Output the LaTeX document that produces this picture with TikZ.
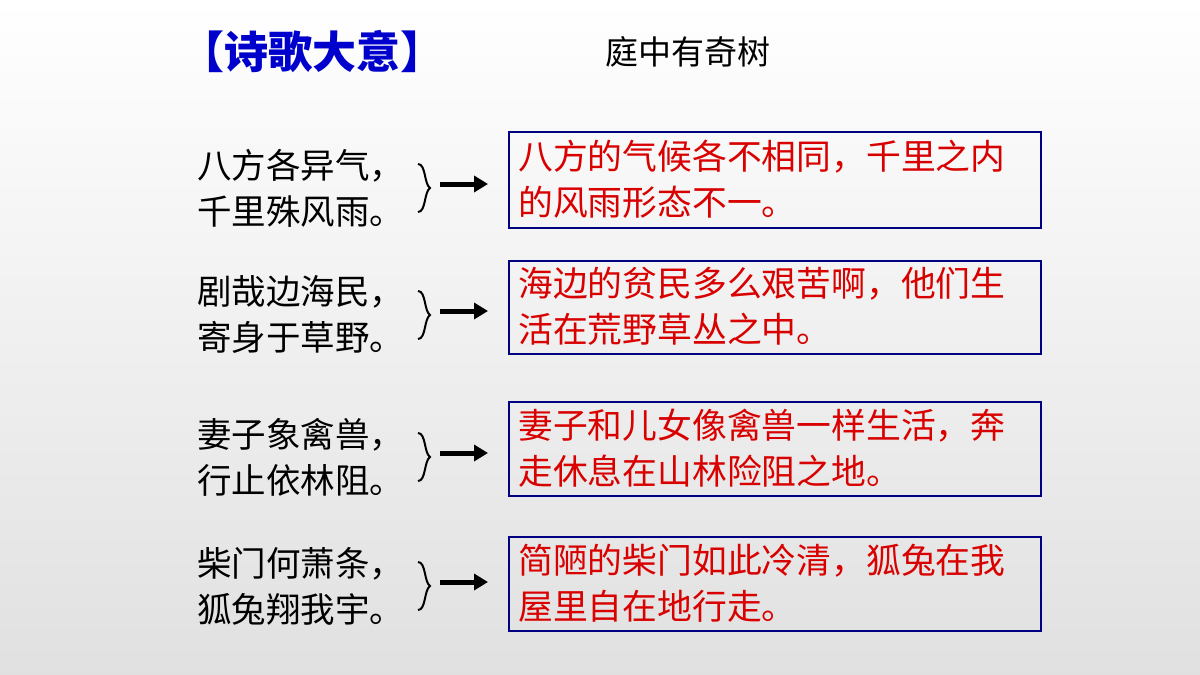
\documentclass[tikz,border=0pt]{standalone}
\usepackage{fontspec}
\usetikzlibrary{arrows.meta}
\newfontfamily\cjk{Noto Sans CJK SC}
\begin{document}
\begin{tikzpicture}[x=1pt,y=-1pt,
  lt/.style={anchor=west,align=left,font=\cjk\fontsize{34.5}{46}\selectfont,inner sep=0},
  bx/.style={draw=blue!50!black,line width=1.5pt,minimum width=532pt,anchor=north west,inner sep=0},
  rt/.style={anchor=west,align=left,font=\cjk\fontsize{34.8}{46}\selectfont,text=red!85!black,inner sep=0},
  arr/.style={line width=5pt,-{Triangle[length=14pt,width=16pt]}}]
\shade[top color=white,bottom color=black!12] (0,0) rectangle (1200,675);
\useasboundingbox (0,0) rectangle (1200,675);
\node[anchor=west,inner sep=0,font=\cjk\bfseries\fontsize{44}{44}\selectfont,text=blue!80!black] (t) at (180,52) {【诗歌大意】};
\node[anchor=west,inner sep=0,font=\cjk\fontsize{33}{33}\selectfont] (t2) at (605,52) {庭中有奇树};
\foreach \i/\y/\a/\b/\c/\d/\bt/\bb in {
 1/188/八方各异气，/千里殊风雨。/八方的气候各不相同，千里之内/的风雨形态不一。/131/227,
 2/315/剧哉边海民，/寄身于草野。/海边的贫民多么艰苦啊，他们生/活在荒野草丛之中。/260/353,
 3/457/妻子象禽兽，/行止依林阻。/妻子和儿女像禽兽一样生活，奔/走休息在山林险阻之地。/401/495,
 4/586/柴门何萧条，/狐兔翔我宇。/简陋的柴门如此冷清，狐兔在我/屋里自在地行走。/536/630}{
  \node[lt] (l\i) at (197,\y) {\a\\\b};
  \draw[line width=2pt] (418,\y-24) .. controls (426,\y-24) and (424,\y-4) .. (430,\y)
     .. controls (424,\y+4) and (426,\y+24) .. (418,\y+24);
  \coordinate (s\i) at (440,\y-4);
  \node[bx,minimum height=\bb-\bt] (b\i) at (508,\bt) {};
  \node[rt] (r\i) at (518,\bt/2+\bb/2) {\c\\\d};
  \draw[arr] (s\i) -- (488,\y-4);
}
\end{tikzpicture}
\end{document}
